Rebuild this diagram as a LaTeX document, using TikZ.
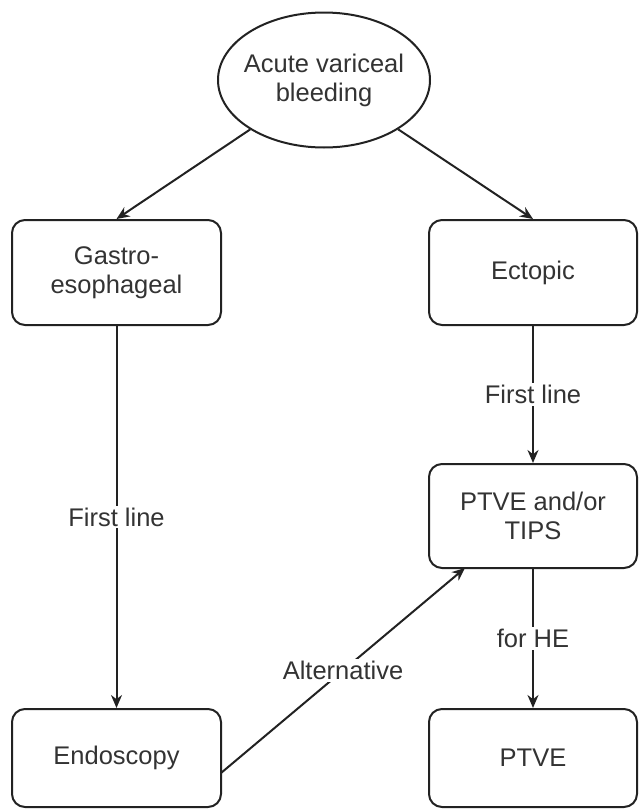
\documentclass[tikz,border=0pt]{standalone}
\usepackage{fontspec}
\setmainfont{Liberation Sans}
\usetikzlibrary{shapes.geometric,arrows.meta}
\definecolor{txt}{HTML}{333333}
\definecolor{ln}{HTML}{222222}
\begin{document}
\begin{tikzpicture}[x=1pt,y=-1pt,
  every node/.style={font=\fontsize{25.5}{29}\selectfont, text=txt, align=center},
  box/.style={draw=ln, line width=2pt, rounded corners=13pt, minimum height=105pt, inner sep=0pt},
  conn/.style={draw=ln, line width=2pt, -{Stealth[length=13pt,width=11pt]}},
  lbl/.style={fill=white, inner sep=2pt}]
\useasboundingbox (0,0) rectangle (639,809);
\node[draw=ln, line width=2pt, ellipse, minimum width=212pt, minimum height=135pt, inner xsep=-6pt, inner ysep=0pt] (acute) at (324,80) {Acute variceal\\bleeding};
\node[box, minimum width=209pt] (gastro) at (116.5,272.5) {Gastro-\\esophageal};
\node[box, minimum width=208pt] (ectopic) at (533,272.5) {Ectopic};
\node[box, minimum width=208pt, minimum height=104pt] (tips) at (533,516) {PTVE and/or\\TIPS};
\node[box, minimum width=209pt, minimum height=98pt] (endo) at (116.5,758) {Endoscopy};
\node[box, minimum width=208pt, minimum height=98pt] (ptve) at (533,758) {PTVE};
\coordinate (tipsin) at (465,568);
\coordinate (endoout) at (221,773);
\draw[conn] (acute) -- (gastro.north);
\draw[conn] (acute) -- (ectopic.north);
\draw[conn] (gastro) -- node[lbl, pos=0.5] {First line} (endo);
\draw[conn] (ectopic) -- node[lbl, pos=0.5] {First line} (tips);
\draw[conn] (tips) -- node[lbl, pos=0.5] {for HE} (ptve);
\draw[conn] (endoout) -- node[lbl, pos=0.5] {Alternative} (tipsin);
\end{tikzpicture}
\end{document}
